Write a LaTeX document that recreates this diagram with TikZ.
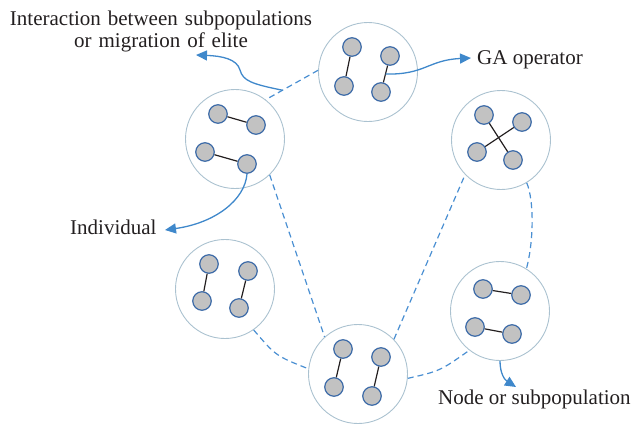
\documentclass[tikz,border=0pt]{standalone}
\usepackage{fontspec}
\setmainfont{Liberation Serif}
\usetikzlibrary{arrows.meta,calc}
\definecolor{ringcol}{HTML}{ABC2D0}
\definecolor{nodefill}{HTML}{C2C2C2}
\definecolor{nodeedge}{HTML}{3D6BA8}
\definecolor{linkblue}{HTML}{4A8FD2}
\definecolor{arrowblue}{HTML}{3F88CB}
\definecolor{inkcol}{HTML}{231F20}
\begin{document}
\begin{tikzpicture}[x=1pt,y=-1pt,
  ring/.style={circle,draw=ringcol,line width=0.9pt,minimum size=99pt,inner sep=0pt},
  indiv/.style={circle,draw=nodeedge,fill=nodefill,line width=1.2pt,minimum size=18.5pt,inner sep=0pt},
  bond/.style={draw=inkcol,line width=1.2pt},
  link/.style={draw=linkblue,line width=1.2pt,dash pattern=on 6pt off 4pt},
  pointer/.style={draw=arrowblue,line width=1.3pt,-{Triangle[length=11pt,width=10pt]}},
  caption/.style={text=inkcol,font=\fontsize{21}{22}\selectfont,inner sep=0pt}]
\useasboundingbox (0,0) rectangle (635,426);

% subpopulation rings
\node[ring] (top) at (368,72) {};
\node[ring] (ul)  at (235,139) {};
\node[ring] (ur)  at (501,140) {};
\node[ring] (lm)  at (225,289) {};
\node[ring] (rm)  at (500,311) {};
\node[ring] (bot) at (358,374) {};

% individuals
\node[indiv] (t1) at (352,47) {};
\node[indiv] (t2) at (344,86) {};
\node[indiv] (t3) at (390,56) {};
\node[indiv] (t4) at (381,92) {};

\node[indiv] (u1) at (218,114) {};
\node[indiv] (u2) at (256,125) {};
\node[indiv] (u3) at (205,152) {};
\node[indiv] (u4) at (247,164) {};

\node[indiv] (r1) at (484,115) {};
\node[indiv] (r2) at (522,122) {};
\node[indiv] (r3) at (477,152) {};
\node[indiv] (r4) at (513,160) {};

\node[indiv] (l1) at (209,264) {};
\node[indiv] (l2) at (202,301) {};
\node[indiv] (l3) at (248,271) {};
\node[indiv] (l4) at (239,308) {};

\node[indiv] (m1) at (483,289) {};
\node[indiv] (m2) at (521,295) {};
\node[indiv] (m3) at (475,327) {};
\node[indiv] (m4) at (512,334) {};

\node[indiv] (b1) at (343,349) {};
\node[indiv] (b2) at (334,387) {};
\node[indiv] (b3) at (381,357) {};
\node[indiv] (b4) at (372,396) {};

% pairings inside each ring
\draw[bond] (t1) -- (t2);
\draw[bond] (t3) -- (t4);
\draw[bond] (u1) -- (u2);
\draw[bond] (u3) -- (u4);
\draw[bond] (r1) -- (r4);
\draw[bond] (r2) -- (r3);
\draw[bond] (l1) -- (l2);
\draw[bond] (l3) -- (l4);
\draw[bond] (m1) -- (m2);
\draw[bond] (m3) -- (m4);
\draw[bond] (b1) -- (b2);
\draw[bond] (b3) -- (b4);

% links between subpopulations
\draw[link] (top.178) -- coordinate[pos=0.68] (mig) (ul.52);
\draw[link] (ul.-46) -- (bot.132);
\draw[link] (lm.-55) .. controls (276,356) .. (bot.174);
\draw[link] (bot.-5) .. controls (440,371) .. (rm.-128);
\draw[link] (bot.44) -- (ur.-136);
\draw[link] (ur.-59) .. controls (534,200) and (534,240) .. (rm.58);

% annotation arrows
\coordinate (gastart) at ($(t3)!0.5!(t4)$);
\coordinate (migtip) at (196,55);
\coordinate (gatip) at (471,58);
\coordinate (indtip) at (165,230);
\coordinate (subtip) at (516,387);

\draw[pointer] (mig) .. controls (252,84) and (243,81) .. (240,70)
               .. controls (237,59) and (222,56) .. (migtip);
\draw[pointer] (gastart) .. controls (425,75) and (428,60) .. (gatip);
\draw[pointer] (u4.south) .. controls (245,200) and (215,223) .. (indtip);
\draw[pointer] (rm.south) .. controls (500,374) and (505,380) .. (subtip);

% labels
\node[caption,text width=330pt,align=center,anchor=base] (miglabel) at (161,25)
  {Interaction between subpopulations\\or migration of elite};
\node[caption,anchor=base west] (galabel) at (477,64) {GA operator};
\node[caption,anchor=base west] (indlabel) at (70,234) {Individual};
\node[caption,anchor=base west] (sublabel) at (438,404) {Node or subpopulation};
\end{tikzpicture}
\end{document}
